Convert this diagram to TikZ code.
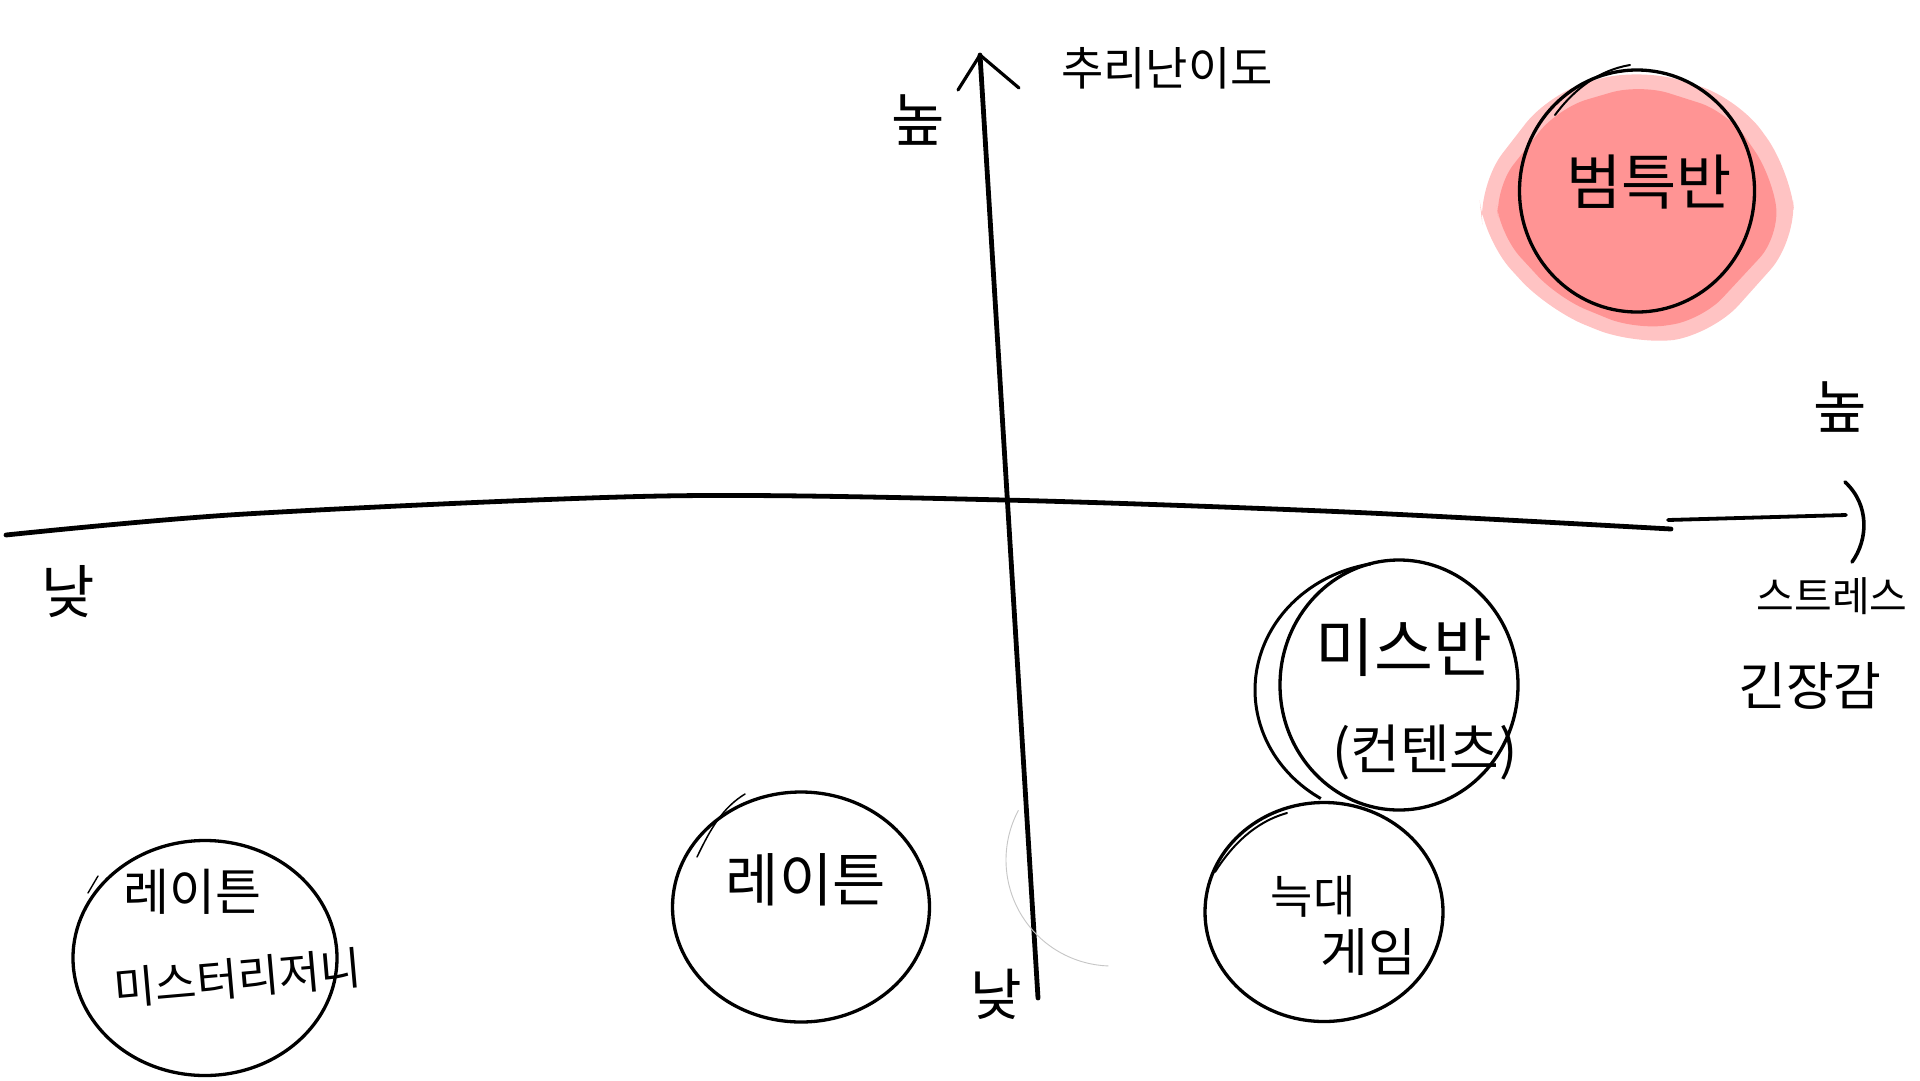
\documentclass[tikz,border=0pt]{standalone}
\usepackage{fontspec}
\setmainfont{Noto Sans CJK KR}
\usetikzlibrary{shapes.geometric}
\definecolor{blobpink}{RGB}{255,148,148}
\definecolor{blobedge}{RGB}{255,195,195}
\tikzset{
  axisline/.style={line width=4.8pt, line cap=round, line join=round},
  bubble/.style={ellipse, draw, line width=3.3pt, inner sep=0pt},
  sketch/.style={line width=2pt, line cap=round},
  lbl/.style={inner sep=0pt, align=center},
}
\newcommand{\fs}[1]{\fontsize{#1}{#1}\selectfont}
\begin{document}
\begin{tikzpicture}[x=1pt,y=-1pt]
\path[use as bounding box, fill=white] (0,0) rectangle (1920,1080);

% pink blob behind the top-right circle
\fill[blobedge, rounded corners=40pt] (1478,185) -- (1550,92) -- (1640,68) -- (1738,98) -- (1790,170) -- (1797,240) -- (1712,335) -- (1635,345) -- (1548,310) -- (1484,240) -- cycle;
\fill[blobpink, rounded corners=30pt] (1495,188) -- (1558,108) -- (1640,84) -- (1728,112) -- (1772,176) -- (1780,236) -- (1702,320) -- (1636,330) -- (1558,298) -- (1500,235) -- cycle;

% vertical axis
\coordinate (vtop) at (980,55);
\coordinate (vbot) at (1038,998);
\coordinate (al) at (958,90);
\coordinate (ar) at (1019,88);
\draw[axisline] (vbot) -- (vtop);
\draw[axisline, line width=3.2pt] (al) -- (vtop) -- (ar);

% horizontal axis
\draw[axisline] plot[smooth] coordinates {(6,535) (245,514) (661,496) (1004,500) (1347,512) (1671,529)};
\coordinate (hs) at (1668,520);
\coordinate (he) at (1846,515);
\draw[axisline, line width=3.8pt] (hs) -- (he);
\coordinate (pt) at (1845,482);
\coordinate (pb) at (1852,562);
\draw[axisline, line width=3.6pt] (pt) .. controls (1870,505) and (1868,540) .. (pb);

% faint arc near the axis
\draw[gray!45, line width=0.9pt] plot[domain=152:268, samples=40, smooth] ({1112+106*cos(\x)}, {860-106*sin(\x)});

% axis labels
\node[lbl, font=\fs{46}] (ytitle) at (1167,68) {추리난이도};
\node[lbl, font=\fs{58}] (yhigh) at (918,120) {높};
\node[lbl, font=\fs{56}] (ylow) at (996,994) {낮};
\node[lbl, font=\fs{58}] (xlow) at (68,592) {낮};
\node[lbl, font=\fs{58}] (xhigh) at (1840,407) {높};
\node[lbl, font=\fs{41}] (xtitle1) at (1832,596) {스트레스};
\node[lbl, font=\fs{52}] (xtitle2) at (1810,686) {긴장감};

% bubbles
\node[bubble, minimum width=235pt, minimum height=242pt] (bt) at (1637,191) {};
\node[lbl, font=\fs{60}] (bttxt) at (1649,182) {범특반};
\draw[sketch] (1555,115) .. controls (1575,88) and (1600,70) .. (1630,65);

\node[bubble, minimum width=238pt, minimum height=250pt] (ms) at (1399,685) {};
\draw[line width=3pt] plot[domain=100:238, samples=40, smooth] ({1395+140*cos(\x)}, {690-128*sin(\x)});
\node[lbl, font=\fs{64}] (mstxt1) at (1404,648) {미스반};
\node[lbl, font=\fs{54}] (mstxt2) at (1425,752) {(컨텐츠)};

\node[bubble, minimum width=238pt, minimum height=219pt] (nd) at (1324,912) {};
\draw[sketch] (1215,872) .. controls (1232,845) and (1255,822) .. (1287,813);
\node[lbl, font=\fs{46}] (ndtxt1) at (1313,896) {늑대};
\node[lbl, font=\fs{52}] (ndtxt2) at (1368,952) {게임};

\node[bubble, minimum width=257pt, minimum height=230pt] (lt) at (801,907) {};
\draw[sketch, line width=1.5pt] (697,857) .. controls (710,830) and (722,808) .. (745,794);
\node[lbl, font=\fs{58}] (lttxt) at (806,880) {레이튼};

\node[bubble, minimum width=264pt, minimum height=235pt] (lm) at (205,958) {};
\draw[sketch, line width=1.4pt] (88,893) -- (98,876);
\node[lbl, font=\fs{50}] (lmtxt1) at (192,892) {레이튼};
\node[lbl, font=\fs{45}, rotate=5] (lmtxt2) at (238,978) {미스터리저니};
\end{tikzpicture}
\end{document}
